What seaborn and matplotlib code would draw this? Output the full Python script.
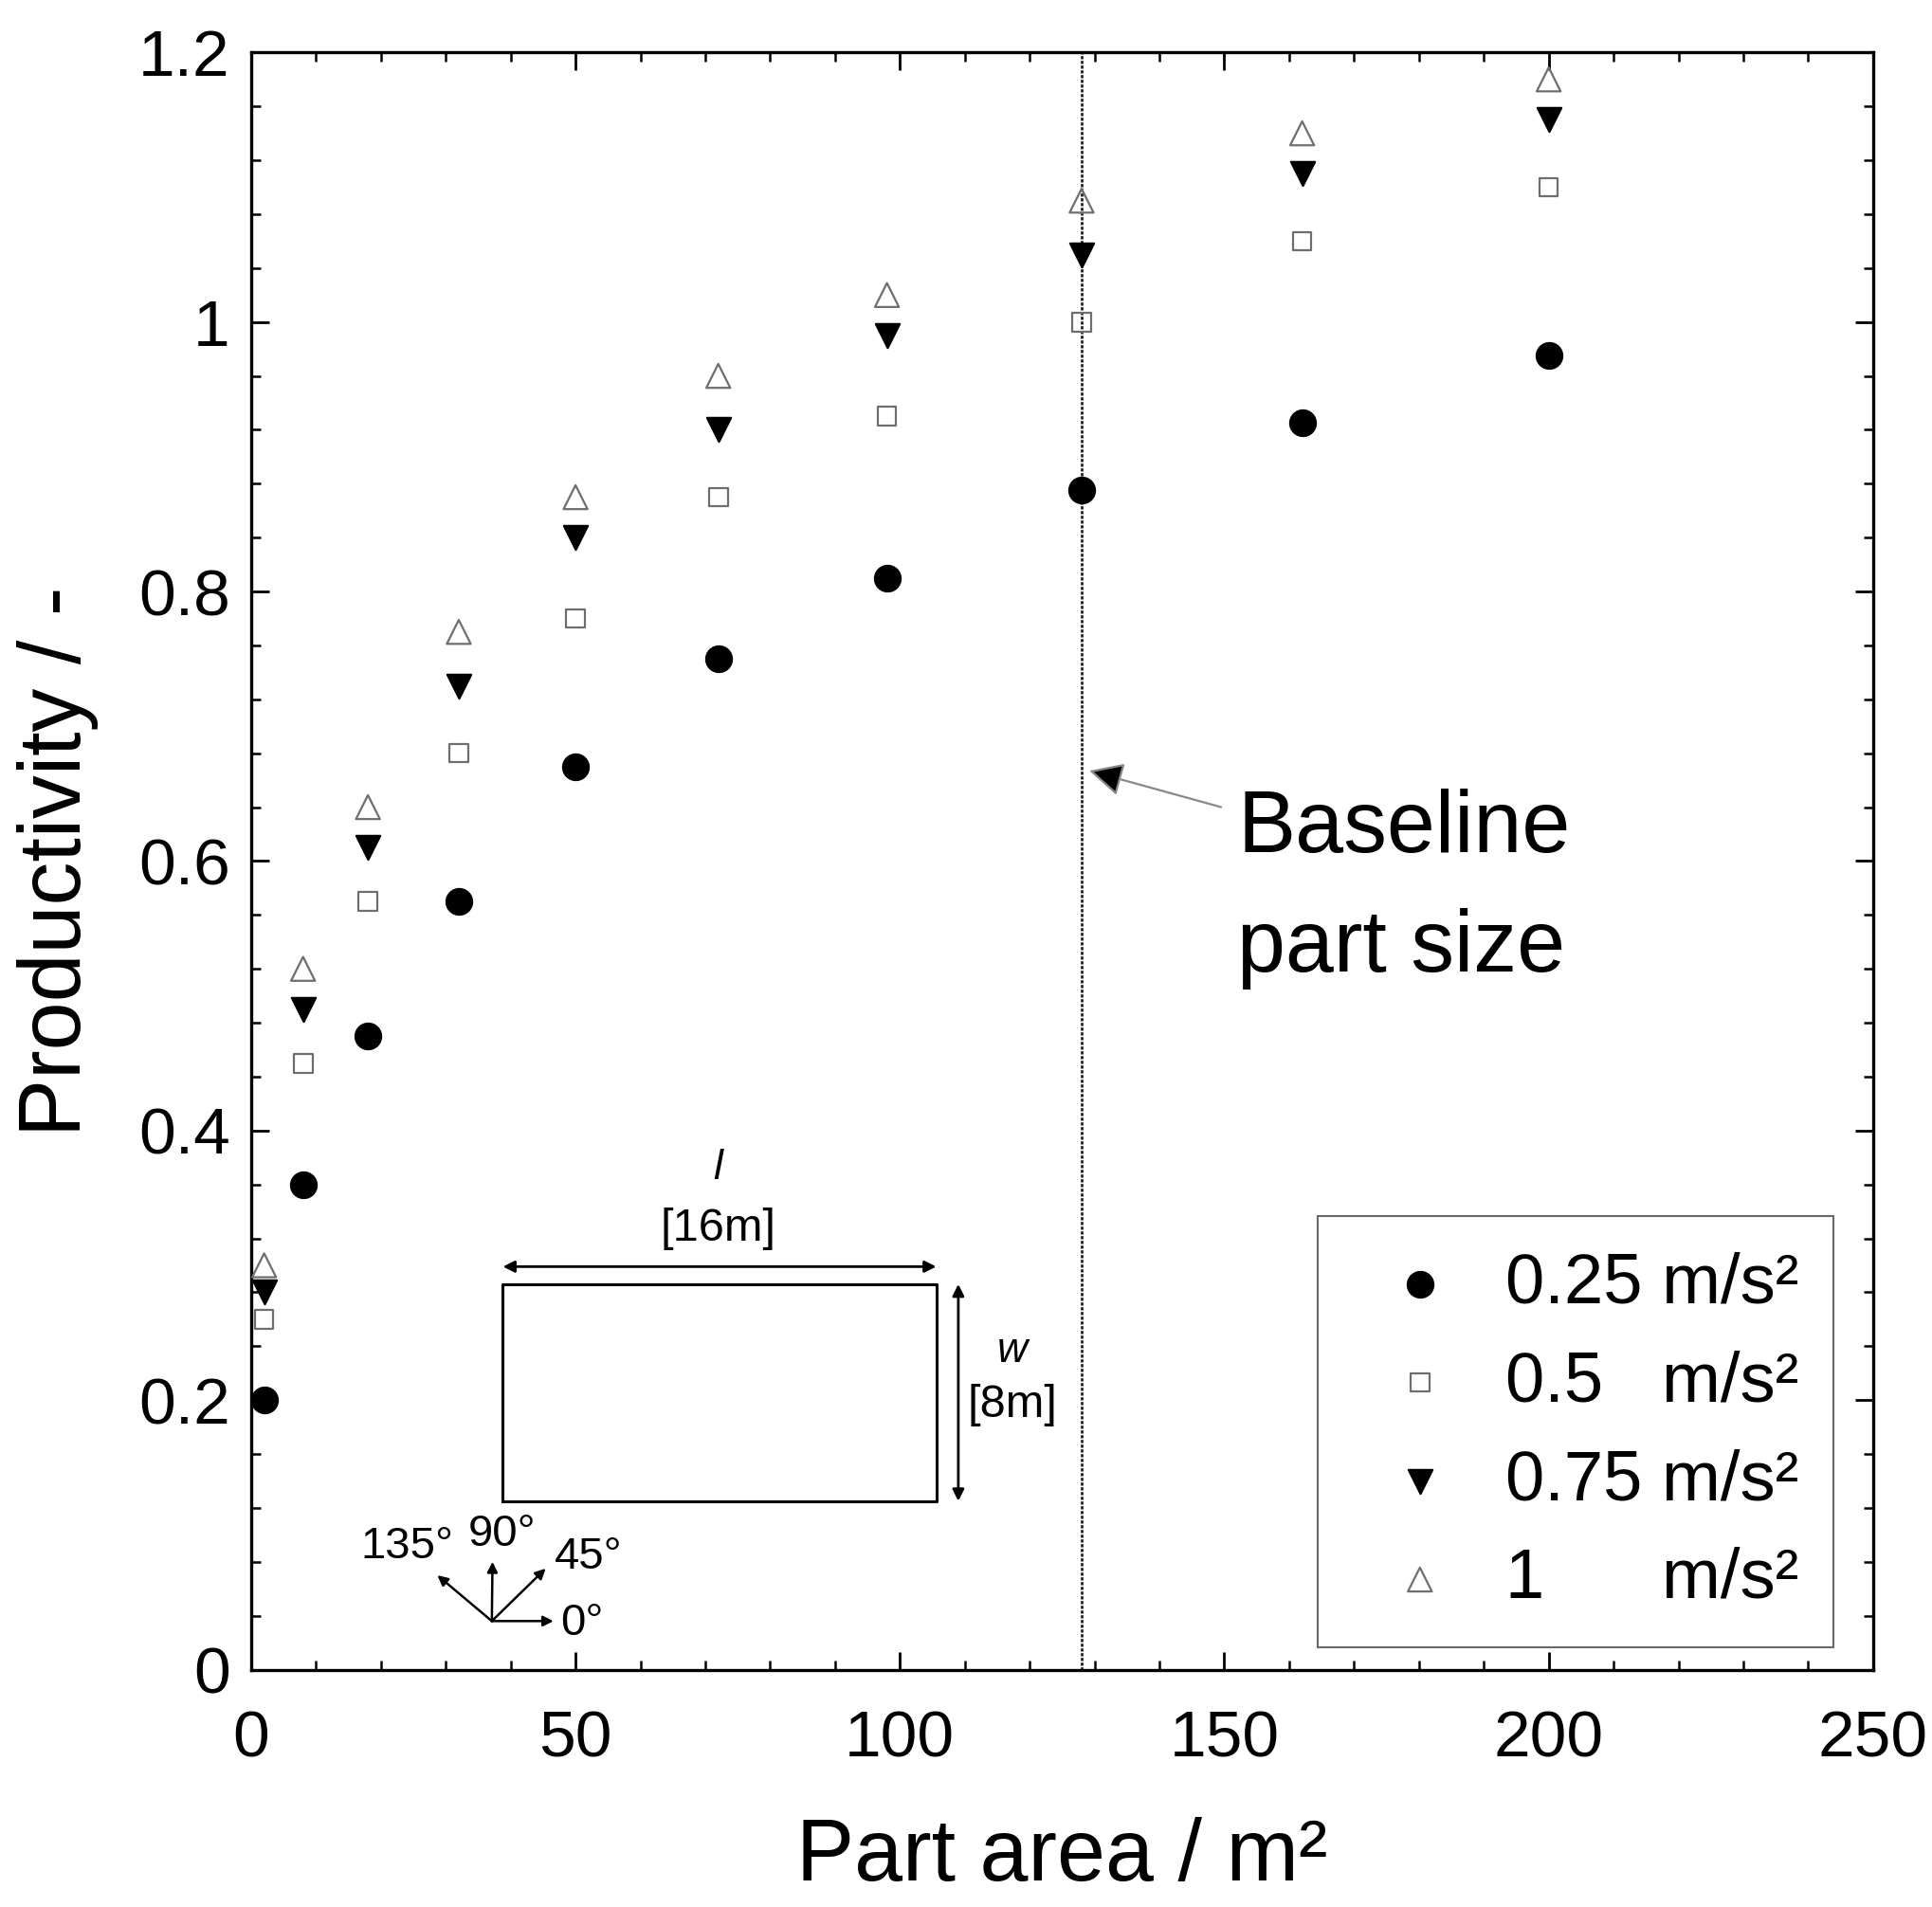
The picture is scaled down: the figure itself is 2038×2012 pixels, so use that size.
import matplotlib
matplotlib.use("Agg")
import matplotlib.pyplot as plt
import seaborn as sns
import pandas as pd
from matplotlib.ticker import MultipleLocator

# ---------------- data ----------------
part_area = [2, 8, 18, 32, 50, 72, 98, 128, 162, 200]
prod_025 = [0.20, 0.36, 0.47, 0.57, 0.67, 0.75, 0.81, 0.875, 0.925, 0.975]
prod_050 = [0.26, 0.45, 0.57, 0.68, 0.78, 0.87, 0.93, 1.00, 1.06, 1.10]
prod_075 = [0.28, 0.49, 0.61, 0.73, 0.84, 0.92, 0.99, 1.05, 1.11, 1.15]
prod_100 = [0.30, 0.52, 0.64, 0.77, 0.87, 0.96, 1.02, 1.09, 1.14, 1.18]
series_labels = ["0.25 m/s²", "0.5   m/s²", "0.75 m/s²", "1      m/s²"]
baseline_area = 128
x_ticks = [0, 50, 100, 150, 200, 250]
y_ticks = [0, 0.2, 0.4, 0.6, 0.8, 1.0, 1.2]
y_tick_labels = ["0", "0.2", "0.4", "0.6", "0.8", "1", "1.2"]

sns.set_theme(style="ticks")
plt.rcParams["font.family"] = ["Liberation Sans", "DejaVu Sans"]
plt.rcParams["text.color"] = "black"
plt.rcParams["axes.labelcolor"] = "black"
plt.rcParams["xtick.color"] = "black"
plt.rcParams["ytick.color"] = "black"

fig = plt.figure(figsize=(20.38, 20.12), dpi=100)
ax = fig.add_axes([0.130, 0.1245, 0.8395, 0.848])

df = pd.DataFrame({"area": part_area, "p025": prod_025, "p050": prod_050,
                   "p075": prod_075, "p100": prod_100})

styles = [
    ("p025", "o", 380, "black", "black"),
    ("p050", "s", 200, "none", "#6e6e6e"),
    ("p075", "v", 330, "black", "black"),
    ("p100", "^", 330, "none", "#6e6e6e"),
]
for (col, mk, s, fc, ec), lab in zip(styles, series_labels):
    sns.scatterplot(data=df, x="area", y=col, marker=mk, s=s, facecolor=fc,
                    edgecolor=ec, linewidth=1.6, ax=ax, label=lab, zorder=3)

# baseline vertical line
ax.axvline(baseline_area, color="#222222", lw=2.0, linestyle=(0, (1.2, 0.6)), zorder=2)

ax.set_xlim(0, 250)
ax.set_ylim(0, 1.2)
ax.set_xticks(x_ticks)
ax.set_xticklabels([str(t) for t in x_ticks])
ax.set_yticks(y_ticks)
ax.set_yticklabels(y_tick_labels)
ax.xaxis.set_minor_locator(MultipleLocator(10))
ax.yaxis.set_minor_locator(MultipleLocator(0.04))
ax.tick_params(which="both", direction="in", top=True, right=True, color="black",
               labelcolor="black")
ax.tick_params(which="major", length=14, width=2.0, labelsize=50)
ax.tick_params(which="minor", length=7, width=1.8)
ax.tick_params(axis="x", which="major", pad=30)
ax.tick_params(axis="y", which="major", pad=16)
for sp in ax.spines.values():
    sp.set_linewidth(2.4)
    sp.set_color("black")

ax.set_xlabel("Part area / m²", fontsize=66, labelpad=36, color="black")
ax.set_ylabel("Productivity / -", fontsize=66, labelpad=30, color="black")

# legend
leg = ax.legend(loc="lower right", bbox_to_anchor=(0.9757, 0.0137), fontsize=53.5,
                frameon=True, fancybox=False, edgecolor="#444444", handletextpad=0.26,
                borderpad=0.5, labelspacing=0.47, handlelength=1.9, borderaxespad=0)
leg.get_frame().set_linewidth(1.5)
for t in leg.get_texts():
    t.set_color("black")

# baseline annotation
ax.annotate("", xy=(129.2, 0.667), xytext=(149.5, 0.64),
            arrowprops=dict(arrowstyle="-|>", fc="black", ec="#888888", lw=1.6,
                            mutation_scale=55, shrinkA=0, shrinkB=0))
ax.text(152.0, 0.579, "Baseline\npart size", fontsize=66, ha="left", va="center",
        linespacing=1.6)

# inset part sketch
rx0, rx1, ry0, ry1 = 38.8, 105.6, 0.125, 0.286
ax.plot([rx0, rx1, rx1, rx0, rx0], [ry0, ry0, ry1, ry1, ry0], color="black", lw=2.2, zorder=2)
ax.annotate("", xy=(rx0, 0.299), xytext=(rx1, 0.299),
            arrowprops=dict(arrowstyle="<|-|>", color="black", lw=2.0, mutation_scale=18,
                            shrinkA=0, shrinkB=0))
ax.annotate("", xy=(109.0, ry1), xytext=(109.0, ry0),
            arrowprops=dict(arrowstyle="<|-|>", color="black", lw=2.0, mutation_scale=18,
                            shrinkA=0, shrinkB=0))
ax.text(72.0, 0.372, "l", fontsize=32, style="italic", ha="center", va="center")
ax.text(72.0, 0.327, "[16m]", fontsize=35, ha="center", va="center")
ax.text(117.3, 0.236, "w", fontsize=32, style="italic", ha="center", va="center")
ax.text(117.3, 0.196, "[8m]", fontsize=35, ha="center", va="center")

# compass
ox, oy = 37.1, 0.036
for tx, ty in [(46.6, 0.036), (37.2, 0.080), (45.4, 0.075), (28.7, 0.070)]:
    ax.annotate("", xy=(tx, ty), xytext=(ox, oy),
                arrowprops=dict(arrowstyle="-|>", color="black", lw=1.8, mutation_scale=16,
                                shrinkA=0, shrinkB=0))
ax.text(24.0, 0.091, "135°", fontsize=34, ha="center", va="center")
ax.text(38.6, 0.100, "90°", fontsize=34, ha="center", va="center")
ax.text(52.0, 0.083, "45°", fontsize=34, ha="center", va="center")
ax.text(51.0, 0.034, "0°", fontsize=34, ha="center", va="center")

fig.savefig("out.png", dpi=100, facecolor="white")
